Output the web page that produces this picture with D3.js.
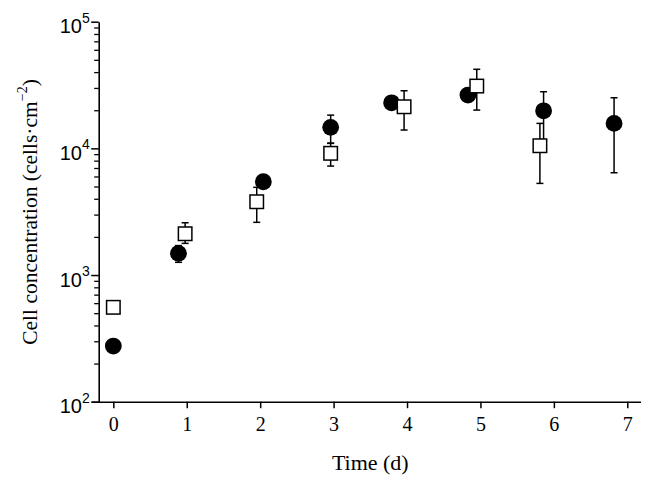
<!DOCTYPE html>
<html><head><meta charset="utf-8">
<script src="https://cdn.jsdelivr.net/npm/d3@7"></script>
<style>
body{margin:0;background:#fff;}
svg{display:block;font-family:"Liberation Serif","Times New Roman",serif;}
</style></head>
<body>
<svg id="chart" width="655" height="484"></svg>
<script>
// Filled circles series
const circleTime  = [0, 0.887, 2.043, 2.96, 3.79, 4.83, 5.86, 6.82];
const circleValue = [275, 1484, 5450, 14650, 22900, 26360, 19800, 15750];
const circleLow   = [null, 1260, null, 10950, null, null, 11600, 6420];
const circleHigh  = [null, 1708, null, 18300, null, null, 28000, 25100];
// Open squares series
const squareTime  = [0, 0.978, 1.953, 2.96, 3.96, 4.95, 5.81];
const squareValue = [556, 2118, 3790, 9140, 21300, 31040, 10490];
const squareLow   = [null, 1778, 2607, 7250, 13960, 20050, 5290];
const squareHigh  = [null, 2587, 4925, 11000, 28500, 42100, 15750];
// Axis ticks
const xTicks = [0, 1, 2, 3, 4, 5, 6, 7];
const yMajor = [1e2, 1e3, 1e4, 1e5];
const yExponents = ["2", "3", "4", "5"];

const svg = d3.select("#chart");
const x = d3.scaleLinear().domain([-0.3, 7.18]).range([91.3, 640.5]);
const y = d3.scaleLog().domain([1e2, 1e5]).range([401.7, 21.7]);

const yMinor = [];
[1e2, 1e3, 1e4].forEach(d => { for (let k = 2; k <= 9; k++) yMinor.push(d * k); });

// X axis
const gx = svg.append("g").attr("transform", "translate(0,401.7)")
  .call(d3.axisBottom(x).tickValues(xTicks).tickSizeOuter(0).tickSizeInner(6.5).tickPadding(9).tickFormat(d3.format("d")));
gx.select(".domain").attr("stroke", "#000").attr("stroke-width", 1.6);
gx.selectAll(".tick line").attr("stroke", "#000").attr("stroke-width", 1.5);
gx.selectAll(".tick text").attr("font-size", 20).attr("fill", "#000").attr("font-family", "Liberation Serif");

// Y axis minor
const gym = svg.append("g").attr("transform", "translate(98.7,0)")
  .call(d3.axisLeft(y).tickValues(yMinor).tickSize(4.5).tickFormat(""));
gym.select(".domain").remove();
gym.selectAll(".tick line").attr("stroke", "#000").attr("stroke-width", 1.3);

// Y axis major
const gy = svg.append("g").attr("transform", "translate(98.7,0)")
  .call(d3.axisLeft(y).tickValues(yMajor).tickSizeOuter(0).tickSizeInner(7.5).tickFormat(() => ""));
gy.select(".domain").attr("stroke", "#000").attr("stroke-width", 1.6);
gy.selectAll(".tick line").attr("stroke", "#000").attr("stroke-width", 1.5);
gy.selectAll(".tick").each(function(d, i) {
  const t = d3.select(this).append("text")
    .attr("x", -9).attr("y", 0).attr("dy", "0.55em")
    .attr("text-anchor", "end").attr("fill", "#000").attr("font-size", 20);
  t.append("tspan").text("10");
  t.append("tspan").attr("font-size", 14).attr("dy", "-0.75em").text(yExponents[i]);
});

// Axis titles
svg.append("text").attr("x", 370.3).attr("y", 470).attr("text-anchor", "middle")
  .attr("font-size", 22).attr("fill", "#000").text("Time (d)");
const yl = svg.append("text").attr("transform", "translate(37,212) rotate(-90)")
  .attr("text-anchor", "middle").attr("font-size", 21.5).attr("fill", "#000");
yl.append("tspan").text("Cell concentration (cells·cm");
yl.append("tspan").attr("font-size", 14).attr("dy", "-0.7em").text("−2");
yl.append("tspan").attr("dy", "0.47em").text(")");

function errorBars(g, ts, lo, hi) {
  const capW = 3.5;
  ts.forEach((t, i) => {
    if (lo[i] == null) return;
    const cx = x(t), y1 = y(lo[i]), y2 = y(hi[i]);
    g.append("line").attr("x1", cx).attr("x2", cx).attr("y1", y1).attr("y2", y2)
      .attr("stroke", "#000").attr("stroke-width", 1.5);
    [y1, y2].forEach(yy => g.append("line").attr("x1", cx - capW).attr("x2", cx + capW)
      .attr("y1", yy).attr("y2", yy).attr("stroke", "#000").attr("stroke-width", 1.5));
  });
}

// Circles
const gc = svg.append("g");
errorBars(gc, circleTime, circleLow, circleHigh);
gc.selectAll("circle").data(circleTime).join("circle")
  .attr("cx", d => x(d)).attr("cy", (d, i) => y(circleValue[i])).attr("r", 8.4).attr("fill", "#000");

// Squares
const gs = svg.append("g");
errorBars(gs, squareTime, squareLow, squareHigh);
const s = 13.5;
gs.selectAll("rect").data(squareTime).join("rect")
  .attr("x", d => x(d) - s / 2).attr("y", (d, i) => y(squareValue[i]) - s / 2)
  .attr("width", s).attr("height", s).attr("fill", "#fff").attr("stroke", "#000").attr("stroke-width", 1.5);
</script>
</body></html>
